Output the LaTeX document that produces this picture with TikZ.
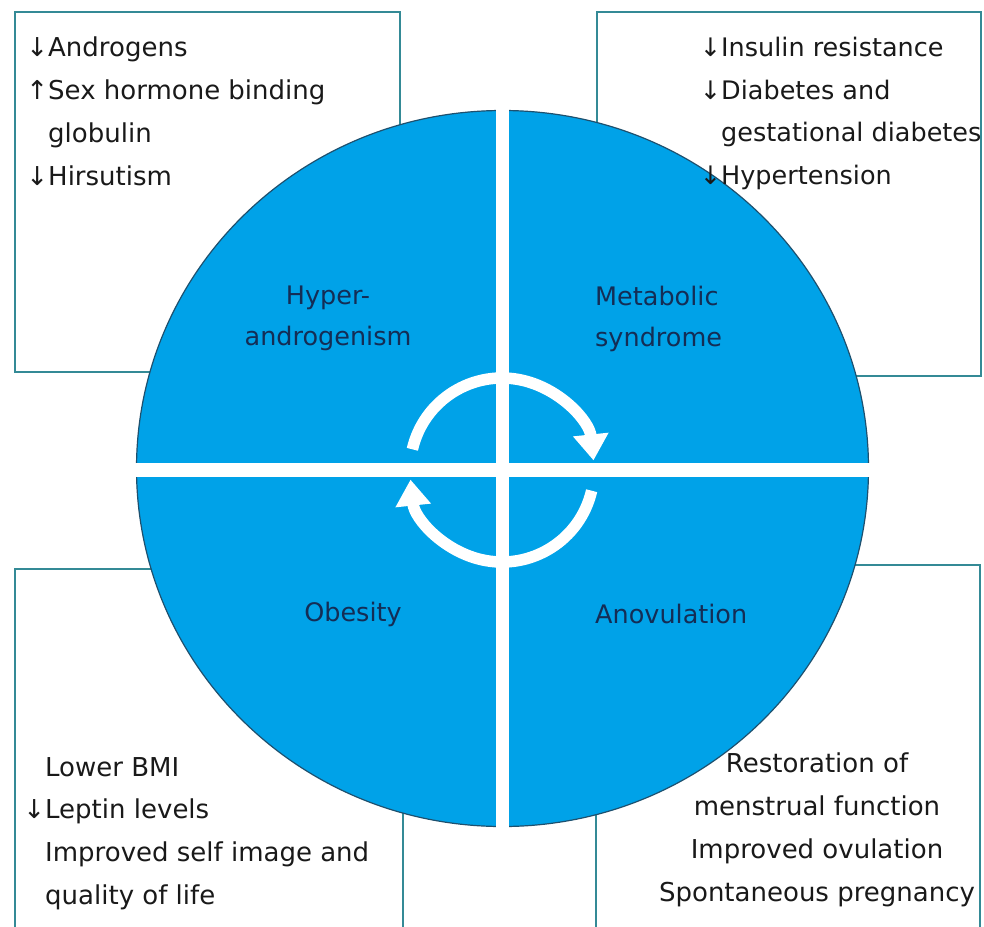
\documentclass[tikz,border=0pt]{standalone}
\usepackage{fontspec}
\setmainfont{DejaVu Sans}
\usepackage{tikz}
\usetikzlibrary{arrows.meta}
\definecolor{discblue}{RGB}{0,162,232}
\definecolor{boxline}{RGB}{52,138,150}
\definecolor{rimline}{RGB}{30,80,110}
\definecolor{labelblue}{RGB}{20,45,85}
\newcommand{\fall}{\llap{↓}}
\newcommand{\rise}{\llap{↑}}
\tikzstyle{effectbox} = [draw=boxline, line width=2.5pt]
\tikzstyle{effects} = [inner sep=0pt, anchor=north west, align=left, text=black!90, font=\fontsize{26}{42.7}\selectfont]
\tikzstyle{quadlabel} = [inner sep=0pt, align=center, text=labelblue, font=\fontsize{25.5}{41}\selectfont]
\tikzstyle{cycle} = [white, line width=11.5pt, -{Triangle[width=34pt,length=26pt]}]

\begin{document}
\begin{tikzpicture}[x=1pt, y=-1pt]
\useasboundingbox (0,0) rectangle (984,926);
% BOXES
\draw [effectbox] (15,12) rectangle (400,372);
\draw [effectbox] (597,12) rectangle (981,376);
\draw [effectbox] (15,940) |- (403,569) -- (403,940);
\draw [effectbox] (596,940) |- (980,565) -- (980,940);

% DISC
\filldraw [fill=discblue, draw=rimline, line width=1.2pt] (502.5,468.5) ellipse [x radius=366pt, y radius=358pt];
\fill [white] (496,90) rectangle (509,850);
\fill [white] (120,463) rectangle (885,477);

% CYCLE
\coordinate (hub) at (502,470);
\draw [cycle] (hub) ++(-167:92) arc [start angle=-167, end angle=-6, radius=92];
\draw [cycle] (hub) ++(13:92) arc [start angle=13, end angle=174, radius=92];

% LABELS
\node (hyper) [quadlabel] at (328,318) {Hyper-\\androgenism};
\node (metabolic) [quadlabel, anchor=west, align=left] at (595,319) {Metabolic\\syndrome};
\node (obesity) [quadlabel] at (353,614) {Obesity};
\node (anovulation) [quadlabel, anchor=west] at (595,614) {Anovulation};

% EFFECTS
\node (androgen-effects) [effects] at (48,37) {\fall Androgens\\\rise Sex hormone binding\\globulin\\\fall Hirsutism};
\node (metabolic-effects) [effects, font=\fontsize{25.5}{42.7}\selectfont] at (721,37) {\fall Insulin resistance\\\fall Diabetes and\\gestational diabetes\\\fall Hypertension};
\node (obesity-effects) [effects] at (45,757) {Lower BMI\\\fall Leptin levels\\Improved self image and\\quality of life};
\node (ovulation-effects) [effects, anchor=north, align=center] at (817,753) {Restoration of\\menstrual function\\Improved ovulation\\Spontaneous pregnancy};
\end{tikzpicture}
\end{document}
